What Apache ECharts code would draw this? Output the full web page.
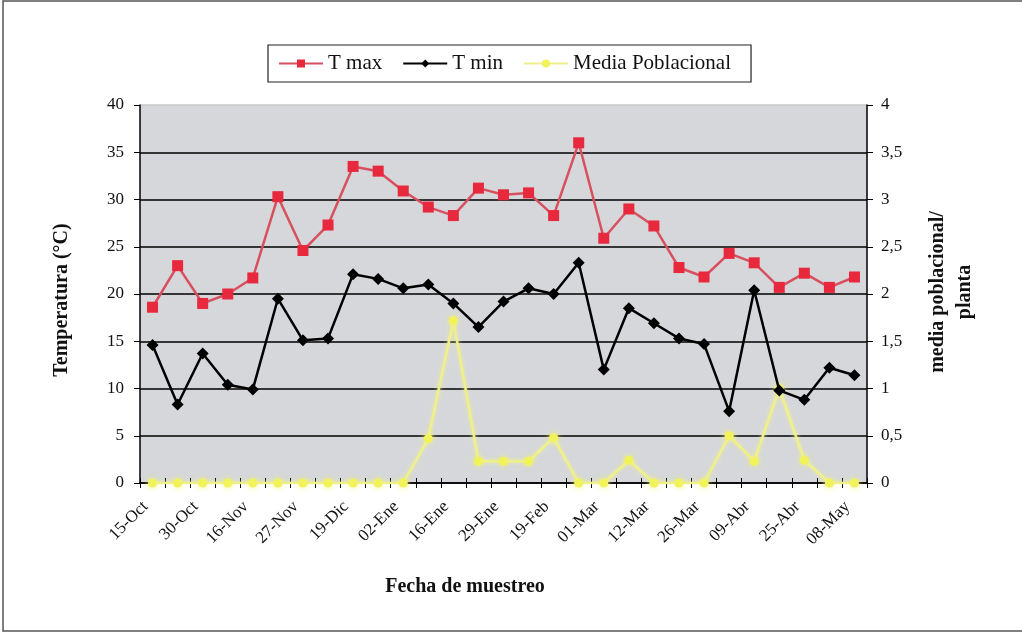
<!DOCTYPE html>
<html>
<head>
<meta charset="utf-8">
<script src="https://cdn.jsdelivr.net/npm/echarts@6/dist/echarts.min.js"></script>
<style>
  html, body { margin: 0; padding: 0; background: #fff; }
  #chart { width: 1022px; height: 635px; }
</style>
</head>
<body>
<div id="chart"></div>
<script>
// Sampling dates (only every second date is labelled on the axis)
const fechas = [
  '15-Oct', '', '30-Oct', '', '16-Nov', '', '27-Nov', '', '19-Dic', '',
  '02-Ene', '', '16-Ene', '', '29-Ene', '', '19-Feb', '', '01-Mar', '',
  '12-Mar', '', '26-Mar', '', '09-Abr', '', '25-Abr', '', '08-May'
];

// Maximum temperature (°C)
const tMax = [
  18.6, 23.0, 19.0, 20.0, 21.7, 30.3, 24.6, 27.3, 33.5, 33.0,
  30.9, 29.2, 28.3, 31.2, 30.5, 30.7, 28.3, 36.0, 25.9, 29.0,
  27.2, 22.8, 21.8, 24.3, 23.3, 20.7, 22.2, 20.7, 21.8
];

// Minimum temperature (°C)
const tMin = [
  14.6, 8.3, 13.7, 10.4, 9.9, 19.5, 15.1, 15.3, 22.1, 21.6,
  20.6, 21.0, 19.0, 16.5, 19.2, 20.6, 20.0, 23.3, 12.0, 18.5,
  16.9, 15.3, 14.7, 7.6, 20.4, 9.8, 8.8, 12.2, 11.4
];

// Mean population per plant (right axis)
const mediaPoblacional = [
  0, 0, 0, 0, 0, 0, 0, 0, 0, 0,
  0, 0.47, 1.72, 0.23, 0.23, 0.23, 0.48, 0, 0, 0.24,
  0, 0, 0, 0.5, 0.23, 1.0, 0.24, 0, 0
];

const leftTicks = [0, 5, 10, 15, 20, 25, 30, 35, 40];

const serif = 'Liberation Serif, Times New Roman, serif';

const chart = echarts.init(document.getElementById('chart'), null, { renderer: 'canvas' });

// Grid lines: black for the inner ones, faint for the top edge
const gridColors = leftTicks.map((v, i) => (i === leftTicks.length - 1 ? '#c8c8c8' : '#000'));

chart.setOption({
  animation: false,
  backgroundColor: '#ffffff',
  textStyle: { fontFamily: serif },
  legend: {
    left: 268,
    top: 45,
    padding: [8, 20, 8, 10],
    itemGap: 20,
    itemWidth: 44,
    itemHeight: 10,
    borderColor: '#222',
    borderWidth: 1.2,
    backgroundColor: '#fff',
    textStyle: { fontFamily: serif, fontSize: 21, color: '#111' },
    data: ['T max', 'T min', 'Media Poblacional']
  },
  grid: {
    left: 140,
    right: 155,
    top: 105,
    bottom: 152,
    show: true,
    backgroundColor: '#d5d7db',
    borderWidth: 0
  },
  xAxis: [
    {
      type: 'category',
      data: fechas,
      boundaryGap: true,
      axisLine: { show: true, lineStyle: { color: '#000', width: 1.5 } },
      axisTick: { show: true, interval: 0, length: 5, lineStyle: { color: '#000', width: 1 } },
      axisLabel: {
        interval: 1,
        rotate: 45,
        margin: 14,
        padding: [0, 10, 0, 0],
        fontFamily: serif,
        fontSize: 17,
        color: '#111'
      }
    },
    {
      // inner half of the cross-shaped category ticks
      type: 'category',
      data: fechas,
      position: 'bottom',
      boundaryGap: true,
      axisLine: { show: false },
      axisTick: { show: true, inside: true, interval: 0, length: 5, lineStyle: { color: '#000', width: 1 } },
      axisLabel: { show: false }
    }
  ],
  yAxis: [
    {
      type: 'value',
      min: 0,
      max: 40,
      interval: 5,
      axisLine: { show: true, lineStyle: { color: '#000', width: 1.5 } },
      axisTick: { show: true, length: 6, lineStyle: { color: '#000' } },
      axisLabel: { fontFamily: serif, fontSize: 17, color: '#111', margin: 16 },
      splitLine: { show: true, lineStyle: { color: gridColors, width: 1.6 } }
    },
    {
      type: 'value',
      min: 0,
      max: 4,
      interval: 0.5,
      position: 'right',
      axisLine: { show: true, lineStyle: { color: '#000', width: 1.5 } },
      axisTick: { show: true, length: 6, lineStyle: { color: '#000' } },
      axisLabel: {
        fontFamily: serif,
        fontSize: 17,
        color: '#111',
        margin: 14,
        formatter: v => String(v).replace('.', ',')
      },
      splitLine: { show: false }
    }
  ],
  series: [
    {
      name: 'Media Poblacional',
      type: 'line',
      yAxisIndex: 1,
      data: mediaPoblacional,
      symbol: 'circle',
      symbolSize: 9,
      z: 2,
      itemStyle: { color: '#f2f25a', shadowBlur: 6, shadowColor: 'rgba(245,245,120,0.9)' },
      lineStyle: { color: '#eef08a', width: 2.5, shadowBlur: 4, shadowColor: 'rgba(245,245,140,0.8)' }
    },
    {
      name: 'T min',
      type: 'line',
      data: tMin,
      symbol: 'diamond',
      symbolSize: 12,
      z: 3,
      itemStyle: { color: '#000' },
      lineStyle: { color: '#000', width: 2.5 }
    },
    {
      name: 'T max',
      type: 'line',
      data: tMax,
      symbol: 'rect',
      symbolSize: 11,
      z: 4,
      itemStyle: { color: '#e8283c' },
      lineStyle: { color: '#d8505e', width: 2.5 }
    }
  ],
  graphic: [
    {
      // outer frame of the figure
      type: 'rect',
      shape: { x: 3, y: 1, width: 1030, height: 630 },
      style: { fill: null, stroke: '#555', lineWidth: 1.5 },
      silent: true
    },
    {
      type: 'text',
      x: 465,
      y: 587,
      style: {
        text: 'Fecha de muestreo',
        font: 'bold 20px ' + serif,
        fill: '#111',
        textAlign: 'center',
        textVerticalAlign: 'middle'
      }
    },
    {
      type: 'text',
      x: 62,
      y: 300,
      rotation: Math.PI / 2,
      style: {
        text: 'Temperatura (°C)',
        font: 'bold 20px ' + serif,
        fill: '#111',
        textAlign: 'center',
        textVerticalAlign: 'middle'
      }
    },
    {
      type: 'text',
      x: 951,
      y: 292,
      rotation: Math.PI / 2,
      style: {
        text: 'media poblacional/\nplanta',
        font: 'bold 20px ' + serif,
        lineHeight: 27,
        fill: '#111',
        textAlign: 'center',
        textVerticalAlign: 'middle'
      }
    }
  ]
});
</script>
</body>
</html>
